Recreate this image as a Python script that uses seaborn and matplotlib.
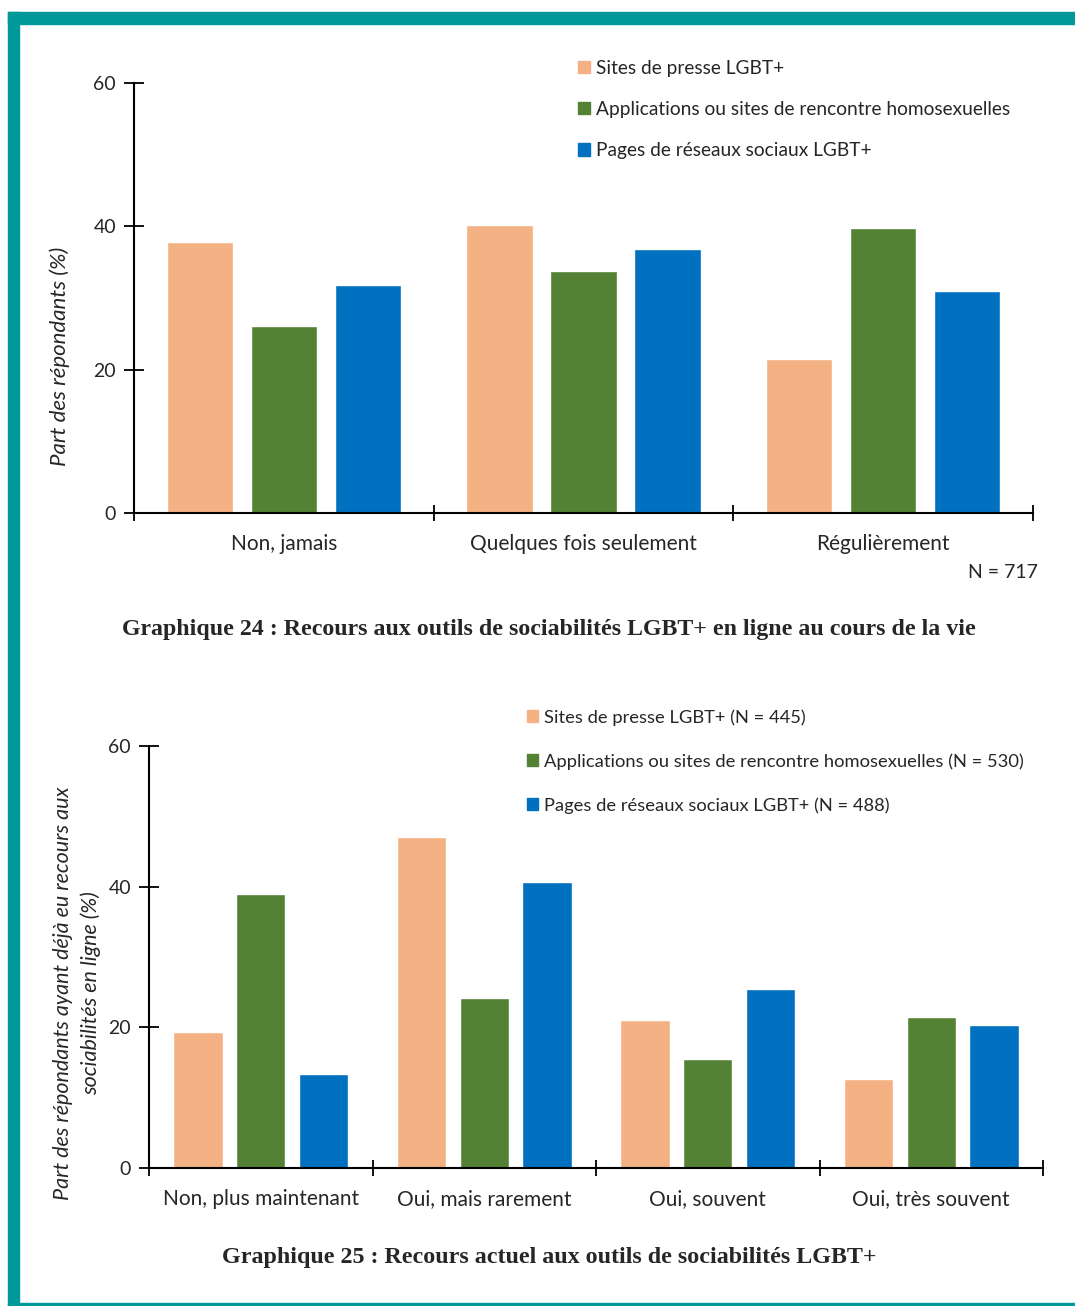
import seaborn as sns
import matplotlib.pyplot as plt
import matplotlib.patches as mpatches
import pandas as pd

# Graphique 24 data
cat24 = ['Non, jamais', 'Quelques fois seulement', 'Régulièrement']
series24 = ['Sites de presse LGBT+',
            'Applications ou sites de rencontre homosexuelles',
            'Pages de réseaux sociaux LGBT+']
presse24 = [37.8, 40.2, 21.5]
appli24 = [26.1, 33.8, 39.8]
reseaux24 = [31.8, 36.8, 31.0]

# Graphique 25 data
cat25 = ['Non, plus maintenant', 'Oui, mais rarement', 'Oui, souvent', 'Oui, très souvent']
series25 = ['Sites de presse LGBT+ (N = 445)',
            'Applications ou sites de rencontre homosexuelles (N = 530)',
            'Pages de réseaux sociaux LGBT+ (N = 488)']
presse25 = [19.4, 47.1, 21.1, 12.6]
appli25 = [38.9, 24.1, 15.5, 21.5]
reseaux25 = [13.4, 40.6, 25.5, 20.4]

colors = ['#F4B183', '#548235', '#0070C0']
teal = '#009999'

sns.set_style('white')
plt.rcParams['font.family'] = ['Lato', 'DejaVu Sans']


def make_df(cats, names, vals):
    rows = []
    for name, v in zip(names, vals):
        for c, x in zip(cats, v):
            rows.append({'cat': c, 'serie': name, 'val': x})
    return pd.DataFrame(rows)


def draw(ax, df, cats, names):
    sns.barplot(data=df, x='cat', y='val', hue='serie', hue_order=names,
                order=cats, palette=colors, width=0.84, gap=0.21,
                saturation=1, ax=ax, legend=True)
    n = len(cats)
    ax.set_xlim(-0.5, n - 0.5)
    ax.set_ylim(0, 60)
    ax.set_yticks([0, 20, 40, 60])
    ax.set_xticks([i - 0.5 for i in range(n + 1)])
    ax.set_xticklabels([])
    ax.set_xticks(list(range(n)), minor=True)
    ax.set_xticklabels(cats, minor=True, fontsize=15)
    ax.tick_params(bottom=True, left=True)
    ax.tick_params(axis='x', which='major', direction='inout', length=12, width=1.3,
                   color='black', bottom=True)
    ax.tick_params(axis='x', which='minor', length=0, pad=15)
    ax.tick_params(axis='y', direction='inout', length=14, width=1.3, color='black',
                   labelsize=14, pad=6, left=True)
    for side in ['top', 'right']:
        ax.spines[side].set_visible(False)
    for side in ['left', 'bottom']:
        ax.spines[side].set_color('black')
        ax.spines[side].set_linewidth(1.5)
    ax.set_xlabel('')
    ax.set_ylabel('')
    ax.get_legend().remove()


fig = plt.figure(figsize=(10.75, 13.06), dpi=100)

ax1 = fig.add_axes([134 / 1075, 1 - 513 / 1306, 899 / 1075, 430 / 1306])
draw(ax1, make_df(cat24, series24, [presse24, appli24, reseaux24]), cat24, series24)
ax2 = fig.add_axes([149 / 1075, 1 - 1168 / 1306, 894 / 1075, 422 / 1306])
draw(ax2, make_df(cat25, series25, [presse25, appli25, reseaux25]), cat25, series25)

# legends
h = [mpatches.Patch(color=c) for c in colors]
fig.legend(h, series24, loc='upper left', bbox_to_anchor=(578 / 1075, 1 - 60 / 1306),
           frameon=False, fontsize=13.8, handlelength=0.6, handleheight=0.6,
           handletextpad=0.35, labelspacing=1.26, borderaxespad=0, borderpad=0)
fig.legend(h, series25, loc='upper left', bbox_to_anchor=(527 / 1075, 1 - 709 / 1306),
           frameon=False, fontsize=13.2, handlelength=0.6, handleheight=0.6,
           handletextpad=0.35, labelspacing=1.5, borderaxespad=0, borderpad=0)

# y labels
fig.text(60 / 1075, 1 - 356 / 1306, 'Part des répondants (%)', rotation=90,
         ha='center', va='center', fontsize=16, style='italic')
fig.text(77 / 1075, 1 - 993 / 1306,
         'Part des répondants ayant déjà eu recours aux\nsociabilités en ligne (%)',
         rotation=90, ha='center', va='center', fontsize=15.5, style='italic',
         linespacing=1.4)

fig.text(1038 / 1075, 1 - 573 / 1306, 'N = 717', ha='right', va='center', fontsize=14)

# captions
fig.text(549 / 1075, 1 - 629 / 1306,
         'Graphique 24 : Recours aux outils de sociabilités LGBT+ en ligne au cours de la vie',
         ha='center', va='center', fontsize=17.2, weight='bold', family='Liberation Serif')
fig.text(549 / 1075, 1 - 1258 / 1306,
         'Graphique 25 : Recours actuel aux outils de sociabilités LGBT+',
         ha='center', va='center', fontsize=17.3, weight='bold', family='Liberation Serif')

# teal frame
fig.patches.append(mpatches.Rectangle((8 / 1075, 1 - 24 / 1306), 1, 12 / 1306,
                                      transform=fig.transFigure, color=teal, zorder=0))
fig.patches.append(mpatches.Rectangle((8 / 1075, 0), 11 / 1075, 1 - 12 / 1306,
                                      transform=fig.transFigure, color=teal, zorder=0))
fig.patches.append(mpatches.Rectangle((8 / 1075, 1 / 1306), 1, 2 / 1306,
                                      transform=fig.transFigure, color=teal, zorder=0))

fig.savefig('out.png', dpi=100)
